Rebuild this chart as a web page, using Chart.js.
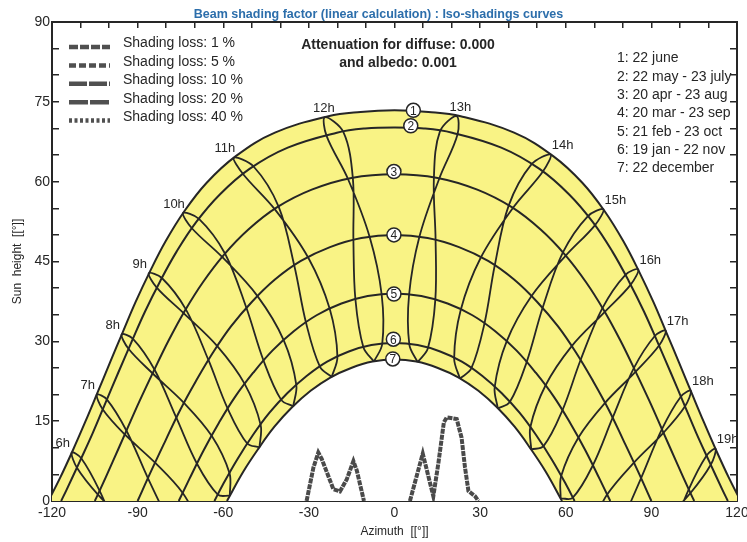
<!DOCTYPE html>
<html>
<head>
<meta charset="utf-8">
<script src="https://cdn.jsdelivr.net/npm/chart.js@4.4.1/dist/chart.umd.min.js"></script>
<style>
  html, body { margin: 0; padding: 0; background: #fff; }
</style>
</head>
<body>
<canvas id="sunChart" width="747" height="542"></canvas>
<script>
// Sun paths, [azimuth, height] in degrees
const june = [[-121.3,0],[-117.3,4.2],[-112.8,9.4],[-108.4,14.8],[-104.1,20.3],[-99.7,26.0],[-95.3,31.6],[-90.7,37.4],[-85.7,43.1],[-80.2,48.8],[-73.7,54.4],[-65.8,59.8],[-55.6,64.8],[-41.9,69.2],[-23.2,72.3],[-11.9,73.1],[0,73.4],[11.9,73.1],[23.2,72.3],[41.9,69.2],[55.6,64.8],[65.8,59.8],[73.7,54.4],[80.2,48.8],[85.7,43.1],[90.7,37.4],[95.3,31.6],[99.7,26.0],[104.1,20.3],[108.4,14.8],[112.8,9.4],[117.3,4.2],[121.3,0]];
const may = [[-116.8,0],[-114.9,2.1],[-110.3,7.4],[-105.7,12.8],[-101.3,18.4],[-96.8,24.1],[-92.2,29.8],[-87.4,35.6],[-82.1,41.3],[-76.3,46.9],[-69.5,52.4],[-61.2,57.6],[-50.8,62.4],[-37.4,66.4],[-20.2,69.2],[-10.3,70.0],[0,70.2],[10.3,70.0],[20.2,69.2],[37.4,66.4],[50.8,62.4],[61.2,57.6],[69.5,52.4],[76.3,46.9],[82.1,41.3],[87.4,35.6],[92.2,29.8],[96.8,24.1],[101.3,18.4],[105.7,12.8],[110.3,7.4],[114.9,2.1],[116.8,0]];
const apr = [[-105.0,0],[-103.5,1.7],[-98.8,7.3],[-94.1,13.0],[-89.3,18.8],[-84.3,24.5],[-79.1,30.2],[-73.4,35.8],[-67.0,41.2],[-59.7,46.3],[-51.2,51.0],[-41.1,55.2],[-29.0,58.5],[-15.1,60.7],[0,61.4],[15.1,60.7],[29.0,58.5],[41.1,55.2],[51.2,51.0],[59.7,46.3],[67.0,41.2],[73.4,35.8],[79.1,30.2],[84.3,24.5],[89.3,18.8],[94.1,13.0],[98.8,7.3],[103.5,1.7],[105.0,0]];
const mar = [[-90,0],[-85.2,5.7],[-80.2,11.4],[-75.1,17.1],[-69.6,22.5],[-63.7,27.8],[-57.3,32.8],[-50.0,37.4],[-41.9,41.6],[-32.8,45.1],[-22.6,47.7],[-11.6,49.4],[0,50.0],[11.6,49.4],[22.6,47.7],[32.8,45.1],[41.9,41.6],[50.0,37.4],[57.3,32.8],[63.7,27.8],[69.6,22.5],[75.1,17.1],[80.2,11.4],[85.2,5.7],[90,0]];
const feb = [[-75.6,0],[-71.9,4.1],[-66.9,9.5],[-61.5,14.7],[-55.8,19.6],[-49.5,24.1],[-42.7,28.3],[-35.3,31.9],[-27.3,34.9],[-18.6,37.1],[-9.4,38.5],[0,39.0],[9.4,38.5],[18.6,37.1],[27.3,34.9],[35.3,31.9],[42.7,28.3],[49.5,24.1],[55.8,19.6],[61.5,14.7],[66.9,9.5],[71.9,4.1],[75.6,0]];
const jan = [[-63.1,0],[-60.2,3.0],[-55.1,7.8],[-49.6,12.4],[-43.8,16.6],[-37.5,20.3],[-30.8,23.5],[-23.6,26.2],[-16.0,28.1],[-8.1,29.3],[0,29.7],[8.1,29.3],[16.0,28.1],[23.6,26.2],[30.8,23.5],[37.5,20.3],[43.8,16.6],[49.6,12.4],[55.1,7.8],[60.2,3.0],[63.1,0]];
const dec = [[-58.7,0],[-53.0,5.5],[-47.6,9.9],[-42.0,14.0],[-35.9,17.6],[-29.4,20.7],[-22.5,23.2],[-15.2,25.0],[-7.7,26.2],[0,26.6],[7.7,26.2],[15.2,25.0],[22.5,23.2],[29.4,20.7],[35.9,17.6],[42.0,14.0],[47.6,9.9],[53.0,5.5],[58.7,0]];

// Hour lines (legal time), loops through the year
const h6 = [[-96.1,-7.2],[-103.3,1.9],[-109.7,8.0],[-113.1,9.1],[-111.2,6.2],[-103.9,1.2],[-93.6,-4.3]];
const h7 = [[-79.0,-4.0],[-86.4,4.3],[-93.9,13.2],[-100.8,19.1],[-104.3,20.0],[-102.2,17.2],[-94.5,12.5],[-83.9,7.2],[-74.2,1.5],[-67.5,-5.0]];
const h8 = [[-57.7,1.0],[-61.9,1.2],[-69.2,7.0],[-76.4,15.6],[-84.1,24.7],[-91.7,30.5],[-95.6,31.3],[-93.2,28.6],[-84.8,24.0],[-73.7,18.4],[-64.0,12.2],[-57.8,5.2],[-57.7,1.0]];
const h9 = [[-47.3,10.1],[-51.6,10.8],[-58.4,17.3],[-65.2,26.5],[-73.1,36.0],[-81.5,41.9],[-86.1,42.8],[-83.3,40.1],[-73.9,35.3],[-62.1,29.1],[-52.5,22.0],[-46.9,14.3],[-47.3,10.1]];
const h10 = [[-35.5,17.8],[-39.7,19.0],[-45.9,26.4],[-51.9,36.3],[-59.4,46.5],[-68.5,53.0],[-74.1,54.1],[-70.9,51.2],[-60.3,45.8],[-48.0,38.5],[-38.8,30.2],[-34.4,21.8],[-35.5,17.8]];
const h11 = [[-22.0,23.3],[-26.1,25.2],[-31.0,33.5],[-35.1,44.2],[-40.6,55.3],[-49.3,62.8],[-56.3,64.5],[-53.0,61.4],[-41.9,54.8],[-30.2,45.7],[-22.7,36.1],[-20.0,27.1],[-22.0,23.3]];
const h12 = [[-7.2,26.2],[-10.9,28.9],[-13.7,37.9],[-14.4,49.0],[-14.6,60.7],[-17.9,69.3],[-24.4,72.1],[-23.8,68.6],[-16.3,60.5],[-8.7,49.6],[-4.5,38.8],[-4.3,29.5],[-7.2,26.2]];
const h13 = [[8.1,26.1],[5.2,29.4],[5.1,38.7],[8.7,49.6],[15.7,60.6],[22.1,68.9],[21.7,72.3],[15.9,69.4],[13.8,60.7],[14.4,49.0],[14.3,37.8],[11.7,28.7],[8.1,26.1]];
const h14 = [[22.9,23.0],[20.9,26.8],[23.2,35.9],[30.2,45.7],[41.4,55.0],[52.0,61.9],[54.7,65.1],[47.9,63.2],[40.0,55.5],[35.1,44.2],[31.5,33.3],[26.9,24.9],[22.9,23.0]];
const h15 = [[36.2,17.4],[35.1,21.4],[39.3,30.0],[48.0,38.5],[60.0,46.1],[70.2,51.8],[73.2,54.8],[67.7,53.5],[59.0,46.7],[51.9,36.3],[46.3,26.1],[40.4,18.6],[36.2,17.4]];
const h16 = [[47.9,9.7],[47.6,13.9],[52.9,21.7],[62.1,29.1],[73.6,35.5],[82.7,40.6],[85.4,43.5],[80.9,42.5],[72.8,36.2],[65.2,26.5],[58.8,17.0],[52.2,10.3],[47.9,9.7]];
const h17 = [[58.2,0.5],[58.4,4.7],[64.4,11.9],[73.7,18.4],[84.5,24.3],[92.7,29.2],[95.0,32.0],[91.2,31.0],[83.9,25.0],[76.4,15.6],[69.5,6.7],[62.4,0.6],[58.2,0.5]];
const h18 = [[68.0,-5.6],[74.5,1.2],[83.9,7.2],[94.2,12.8],[101.8,17.8],[103.8,20.7],[100.3,19.6],[93.7,13.5],[86.4,4.3],[79.3,-4.4]];
const h19 = [[93.6,-4.3],[103.7,1.5],[110.8,6.8],[112.5,9.8],[109.3,8.5],[103.1,2.2],[96.1,-7.2]];

// Far shading horizon
const horizonWest = [[-30.8,0],[-28.4,6.3],[-26.7,9.1],[-25.5,7.9],[-21.4,2.2],[-19.1,1.8],[-16.7,4.1],[-14.4,7.5],[-13.2,5.7],[-10.7,0]];
const horizonEast = [[5.4,0],[9.9,8.9],[13.6,0.9],[15.4,7.2],[17.3,14.8],[18.3,15.7],[21.8,15.4],[23.5,11.9],[24.7,6.3],[25.9,1.9],[28.2,0.9],[29.4,0]];

// Date markers 1..7
const markers = [[6.6,73.4],[5.7,70.5],[-0.2,61.9],[-0.2,50.0],[-0.2,38.9],[-0.4,30.4],[-0.6,26.7]];

const hourNames = ['6h','7h','8h','9h','10h','11h','12h','13h','14h','15h','16h','17h','18h','19h'];
const hourLines = [h6,h7,h8,h9,h10,h11,h12,h13,h14,h15,h16,h17,h18,h19];
const dateNames = ['1: 22 june','2: 22 may - 23 july','3: 20 apr - 23 aug','4: 20 mar - 23 sep','5: 21 feb - 23 oct','6: 19 jan - 22 nov','7: 22 december'];
const lossNames = ['Shading loss: 1 %','Shading loss: 5 %','Shading loss: 10 %','Shading loss: 20 %','Shading loss: 40 %'];
const lossDash = [[9,2],[7,3],[18,2],[19,2],[3,2.5]];

const FONT = "'Liberation Sans', Arial, sans-serif";
const INK = '#262626';
Chart.defaults.font.family = FONT;
Chart.defaults.color = INK;

const pts = arr => arr.map(p => ({x: p[0], y: p[1]}));
const curve = {showLine: true, pointRadius: 0, borderColor: INK, borderWidth: 2, clip: 0, fill: false};

const datasets = [];
datasets.push({...curve, data: pts(june), tension: 0.4, fill: 'origin', backgroundColor: '#f9f385', order: 10});
datasets.push({...curve, data: pts(dec), tension: 0.4, fill: 'origin', backgroundColor: '#ffffff', order: 9});
[may, apr, mar, feb, jan].forEach(c => datasets.push({...curve, data: pts(c), tension: 0.4, order: 5}));
hourLines.forEach(h => datasets.push({...curve, data: pts(h), tension: 0.35, borderWidth: 1.8, order: 4}));
[horizonWest, horizonEast].forEach(h => datasets.push({
  ...curve, data: pts(h), borderColor: '#4a4a4a', borderWidth: 4, borderDash: [5, 1], order: 3
}));
const markerIndex = datasets.length;
datasets.push({data: pts(markers), showLine: false, pointRadius: 7, pointHoverRadius: 7,
  pointBackgroundColor: '#ffffff', pointBorderColor: INK, pointBorderWidth: 1.5, order: 0});

// texts: hour names, marker numbers, keys
const annotate = {
  id: 'annotate',
  afterDraw(chart) {
    const {ctx, chartArea: a, scales: {x, y}} = chart;
    ctx.save();
    ctx.fillStyle = INK;
    ctx.textBaseline = 'middle';

    ctx.font = '13px ' + FONT;
    ctx.textAlign = 'center';
    hourLines.forEach((h, i) => {
      const top = h.reduce((m, p) => (p[1] > m[1] ? p : m));
      const near = Math.abs(top[0]) < 30;
      const dx = top[0] < 0 ? (near ? -1 : -9) : (near ? 4 : 12);
      ctx.fillText(hourNames[i], x.getPixelForValue(top[0]) + dx, y.getPixelForValue(top[1]) - 9);
    });

    ctx.font = '12px ' + FONT;
    chart.getDatasetMeta(markerIndex).data.forEach((pt, i) => {
      ctx.fillText(String(i + 1), pt.x, pt.y + 1);
    });

    // shading loss key
    ctx.textAlign = 'left';
    ctx.font = '14px ' + FONT;
    ctx.strokeStyle = '#505050';
    ctx.lineWidth = 4.5;
    lossNames.forEach((t, i) => {
      const ty = a.top + 21.5 + 18.4 * i;
      ctx.setLineDash(lossDash[i]);
      ctx.beginPath();
      ctx.moveTo(a.left + 17, ty + 3.5);
      ctx.lineTo(a.left + 58, ty + 3.5);
      ctx.stroke();
      ctx.fillText(t, a.left + 71, ty);
    });
    ctx.setLineDash([]);

    // date list
    dateNames.forEach((t, i) => ctx.fillText(t, 617, a.top + 36.5 + 18.3 * i));

    ctx.font = 'bold 14px ' + FONT;
    ctx.textAlign = 'center';
    ctx.fillText('Attenuation for diffuse: 0.000', 398, a.top + 23);
    ctx.fillText('and albedo: 0.001', 398, a.top + 41);
    ctx.restore();
  }
};

const frameGrid = {drawOnChartArea: false, color: INK, lineWidth: 1.5};
const frameBorder = {color: INK, width: 2};

new Chart(document.getElementById('sunChart'), {
  type: 'scatter',
  data: {datasets: datasets},
  options: {
    responsive: false,
    animation: false,
    layout: {padding: {left: 10, right: 0, top: 0, bottom: 0}},
    plugins: {
      legend: {display: false},
      tooltip: {enabled: false},
      title: {
        display: true,
        text: 'Beam shading factor (linear calculation) : Iso-shadings curves',
        color: '#2c6eab',
        font: {size: 12.5, weight: 'bold'},
        padding: {top: 7, bottom: 0}
      }
    },
    scales: {
      x: {
        type: 'linear', position: 'bottom', min: -120, max: 120, z: 1,
        ticks: {stepSize: 10, autoSkip: false, maxRotation: 0, padding: 10, font: {size: 14},
          callback: v => (v % 30 === 0 ? v : '')},
        grid: {...frameGrid, tickLength: -6},
        border: frameBorder,
        title: {display: true, text: 'Azimuth  [[°]]', font: {size: 12}, padding: {top: 0, bottom: 3}},
        afterFit: s => { s.height = 41; s.paddingLeft = 0; s.paddingRight = 0; }
      },
      x2: {
        type: 'linear', position: 'top', min: -120, max: 120, z: 1,
        ticks: {display: false, stepSize: 10, autoSkip: false},
        grid: {...frameGrid, tickLength: -6},
        border: frameBorder,
        afterFit: s => { s.height = 0; s.paddingLeft = 0; s.paddingRight = 0; }
      },
      y: {
        type: 'linear', position: 'left', min: 0, max: 90, z: 1,
        ticks: {stepSize: 5, autoSkip: false, padding: 9, font: {size: 14},
          callback: v => (v % 15 === 0 ? v : '')},
        grid: {...frameGrid, tickLength: -7},
        border: frameBorder,
        title: {display: true, text: 'Sun  height  [[°]]', font: {size: 12}, padding: {top: 0, bottom: 0}},
        afterFit: s => { s.width = 42; s.paddingTop = 0; s.paddingBottom = 0; }
      },
      y2: {
        type: 'linear', position: 'right', min: 0, max: 90, z: 1,
        ticks: {display: false, stepSize: 5, autoSkip: false},
        grid: {...frameGrid, tickLength: -7},
        border: frameBorder,
        afterFit: s => { s.width = 10; s.paddingTop = 0; s.paddingBottom = 0; }
      }
    }
  },
  plugins: [annotate]
});
</script>
</body>
</html>
